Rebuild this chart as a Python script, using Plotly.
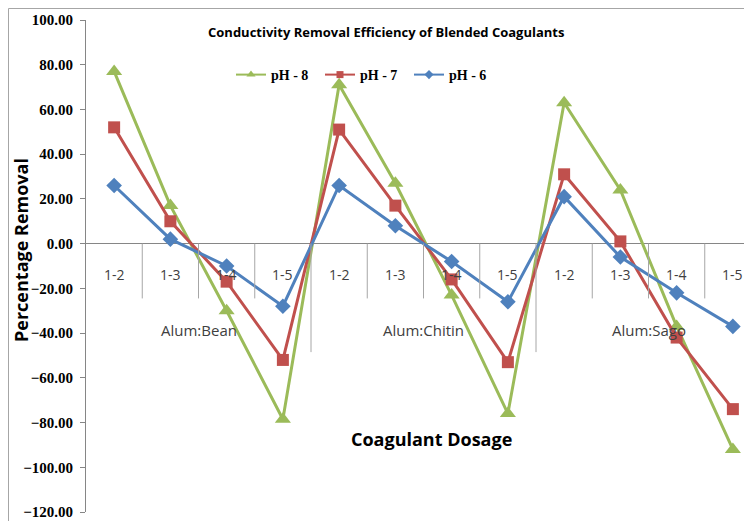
import plotly.graph_objects as go

# ---- data ----
groups = ["Alum:Bean", "Alum:Chitin", "Alum:Sago"]
dosages = ["1-2", "1-3", "1-4", "1-5"]
ph8 = [77, 17, -30, -78.5, 71, 27, -23, -76, 63, 24, -37, -92]
ph7 = [52, 10, -17, -52, 51, 17, -16, -53, 31, 1, -42, -74]
ph6 = [26, 2, -10, -28, 26, 8, -8, -26, 21, -6, -22, -37]
series_names = ["pH - 8", "pH - 7", "pH - 6"]
y_ticks = [100, 80, 60, 40, 20, 0, -20, -40, -60, -80, -100, -120]

cat_labels = [d for g in groups for d in dosages]
xs = list(range(len(cat_labels)))

colors = {"pH - 8": "#9BBB59", "pH - 7": "#C0504D", "pH - 6": "#4F81BD"}
symbols = {"pH - 8": "triangle-up", "pH - 7": "square", "pH - 6": "diamond"}
sizes = {"pH - 8": 14, "pH - 7": 12, "pH - 6": 12}
leg_sizes = {"pH - 8": 8, "pH - 7": 7, "pH - 6": 7}

# page has an 8px body margin: figure is drawn from (8, 8)
OFF = 8
W, H = 752 - OFF, 521 - OFF
L, R, T, B = 86 - OFF, 0, 20 - OFF, 521 - 512

fig = go.Figure()
for name, vals in zip(series_names, [ph8, ph7, ph6]):
    fig.add_trace(go.Scatter(
        x=xs, y=vals, name=name, mode="lines+markers", showlegend=False,
        line=dict(color=colors[name], width=3),
        marker=dict(color=colors[name], symbol=symbols[name], size=sizes[name]),
    ))
# legend entries (smaller symbols, like the reference legend)
for name in series_names:
    fig.add_trace(go.Scatter(
        x=[None], y=[None], name=name, mode="lines+markers", showlegend=True,
        line=dict(color=colors[name], width=2),
        marker=dict(color=colors[name], symbol=symbols[name], size=leg_sizes[name]),
    ))

sans = "'Open Sans', Lato, sans-serif"
serif = "'Liberation Serif', 'DejaVu Serif', serif"

pw = W - L - R
ph = H - T - B
def px_to_paper(px, py):
    fx, fy = px - OFF, py - OFF
    return (fx - L) / pw, (H - B - fy) / ph

annotations = []
for x, lab in zip(xs, cat_labels):
    annotations.append(dict(x=x, y=0, xref="x", yref="y", text=lab, showarrow=False,
                            yanchor="middle", yshift=-31,
                            font=dict(family=sans, size=14, color="#404040")))
for gi, g in enumerate(groups):
    annotations.append(dict(x=gi * 4 + 1.5, y=0, xref="x", yref="y", text=g, showarrow=False,
                            yanchor="middle", yshift=-86,
                            font=dict(family=sans, size=15, color="#404040")))

tx, ty = px_to_paper(386, 32)
annotations.append(dict(x=tx, y=ty, xref="paper", yref="paper", showarrow=False,
                        text="<b>Conductivity Removal Efficiency of Blended Coagulants</b>",
                        font=dict(family=sans, size=13, color="#000000"),
                        xanchor="center", yanchor="middle"))
cx, cy = px_to_paper(432, 439)
annotations.append(dict(x=cx, y=cy, xref="paper", yref="paper", showarrow=False,
                        text="<b>Coagulant Dosage</b>",
                        font=dict(family=sans, size=18, color="#000000"),
                        xanchor="center", yanchor="middle"))
vx, vy = px_to_paper(21, 250)
annotations.append(dict(x=vx, y=vy, xref="paper", yref="paper", showarrow=False,
                        text="<b>Percentage Removal</b>", textangle=-90,
                        font=dict(family=sans, size=18, color="#000000"),
                        xanchor="center", yanchor="middle"))

shapes = []
for i in range(len(cat_labels) - 1):
    b = i + 0.5
    long_sep = (i + 1) % len(dosages) == 0
    shapes.append(dict(type="line", xref="x", yref="y", x0=b, x1=b, y0=0,
                       y1=-48.5 if long_sep else -24.5,
                       line=dict(color="#A6A6A6", width=1)))
# outer chart border
bx0, by0 = px_to_paper(8.5, 8.5)
bx1, by1 = px_to_paper(770, 540)
shapes.append(dict(type="rect", xref="paper", yref="paper", x0=bx0, y0=by1, x1=bx1, y1=by0,
                   line=dict(color="#A6A6A6", width=1), fillcolor="rgba(0,0,0,0)", layer="below"))

lx, ly = px_to_paper(231, 75)
fig.update_layout(
    width=W, height=H,
    margin=dict(l=L, r=R, t=T, b=B),
    paper_bgcolor="white", plot_bgcolor="white",
    showlegend=True,
    legend=dict(orientation="h", x=lx, y=ly, xanchor="left", yanchor="middle",
                font=dict(family=serif, size=14, color="#000000", weight="bold"),
                entrywidth=44, entrywidthmode="pixels",
                bgcolor="rgba(0,0,0,0)", tracegroupgap=0),
    xaxis=dict(range=[-0.5, 11.34], visible=False, showgrid=False, zeroline=False),
    yaxis=dict(range=[-120, 100], tickvals=y_ticks, tickformat=".2f",
               showgrid=False, showline=True, linecolor="#868686", linewidth=1,
               ticks="outside", ticklen=5, tickcolor="#868686", ticklabelstandoff=4,
               zeroline=True, zerolinecolor="#868686", zerolinewidth=1,
               tickfont=dict(family=serif, size=15, color="#000000", weight="bold")),
    annotations=annotations,
    shapes=shapes,
)

fig.write_html("out.html")
